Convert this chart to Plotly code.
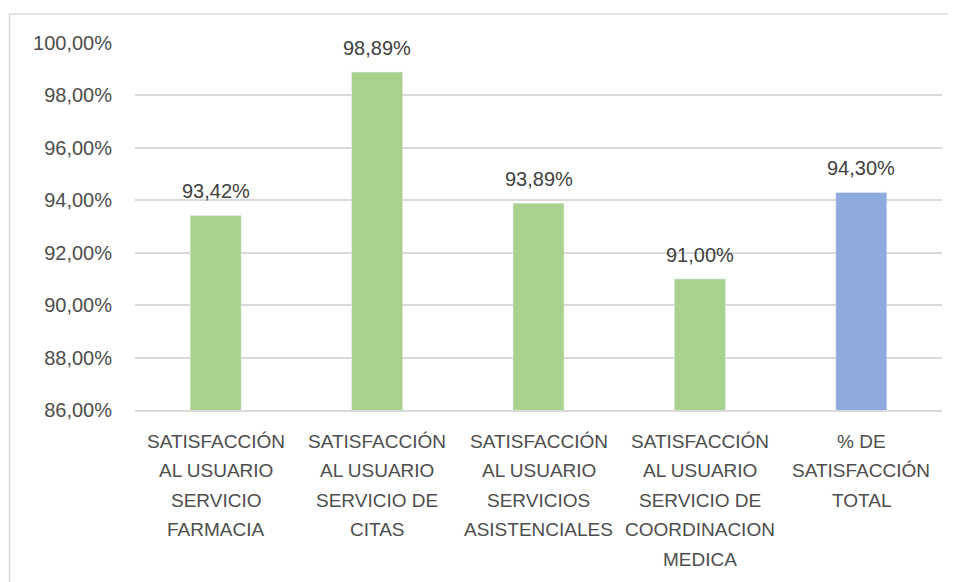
import plotly.graph_objects as go

categories = [
    "SATISFACCIÓN<br>AL USUARIO<br>SERVICIO<br>FARMACIA",
    "SATISFACCIÓN<br>AL USUARIO<br>SERVICIO DE<br>CITAS",
    "SATISFACCIÓN<br>AL USUARIO<br>SERVICIOS<br>ASISTENCIALES",
    "SATISFACCIÓN<br>AL USUARIO<br>SERVICIO DE<br>COORDINACION<br>MEDICA",
    "% DE<br>SATISFACCIÓN<br>TOTAL",
]
keys = ["farmacia", "citas", "asistenciales", "coordinacion", "total"]
values = [93.42, 98.89, 93.89, 91.00, 94.30]
bar_colors = ["#A9D18E", "#A9D18E", "#A9D18E", "#A9D18E", "#8FAADC"]
y_ticks = [86, 88, 90, 92, 94, 96, 98, 100]

FONT = "Liberation Sans, Arial, sans-serif"
TEXT = "#4D4D4D"
GRID = "#D9D9D9"

fig = go.Figure(
    go.Bar(
        x=keys,
        y=values,
        marker_color=bar_colors,
        hoverinfo="x+y",
    )
)

# value labels above each bar
for k, v in zip(keys, values):
    fig.add_annotation(
        x=k, y=v, xref="x", yref="y",
        text=f"{v:.2f}%".replace(".", ","),
        showarrow=False, yanchor="bottom", yshift=11,
        font=dict(family=FONT, size=20, color="#404040"),
    )

# category labels, one line per annotation for Excel-like line spacing
for k, label in zip(keys, categories):
    for i, line in enumerate(label.split("<br>")):
        fig.add_annotation(
            x=k, y=0, xref="x", yref="paper",
            text=line, showarrow=False, yanchor="middle",
            yshift=-31 - i * 29.5,
            font=dict(family=FONT, size=19, color=TEXT),
        )

# chart border (partly cropped in the original)
fig.add_shape(
    type="rect", xref="paper", yref="paper",
    x0=-0.1555, x1=1.2, y0=-1.0, y1=1.079,
    line=dict(color=GRID, width=1.5), layer="below",
)

fig.update_layout(
    width=956,
    height=582,
    margin=dict(l=127, r=22, t=35, b=180),
    paper_bgcolor="white",
    plot_bgcolor="white",
    separators=",.",
    bargap=0.684,
    showlegend=False,
    font=dict(family=FONT, size=19, color=TEXT),
    xaxis=dict(
        showticklabels=False,
        showgrid=False,
        showline=True,
        linecolor=GRID,
        linewidth=1.5,
        ticks="",
    ),
    yaxis=dict(
        range=[86, 100],
        tickvals=y_ticks,
        ticktext=[f"{t:.2f}%".replace(".", ",") for t in y_ticks],
        showgrid=True,
        gridcolor=GRID,
        gridwidth=1.5,
        zeroline=False,
        ticks="",
        ticklabelstandoff=22,
        tickfont=dict(family=FONT, size=20, color=TEXT),
    ),
)

fig.write_html("out.html")
